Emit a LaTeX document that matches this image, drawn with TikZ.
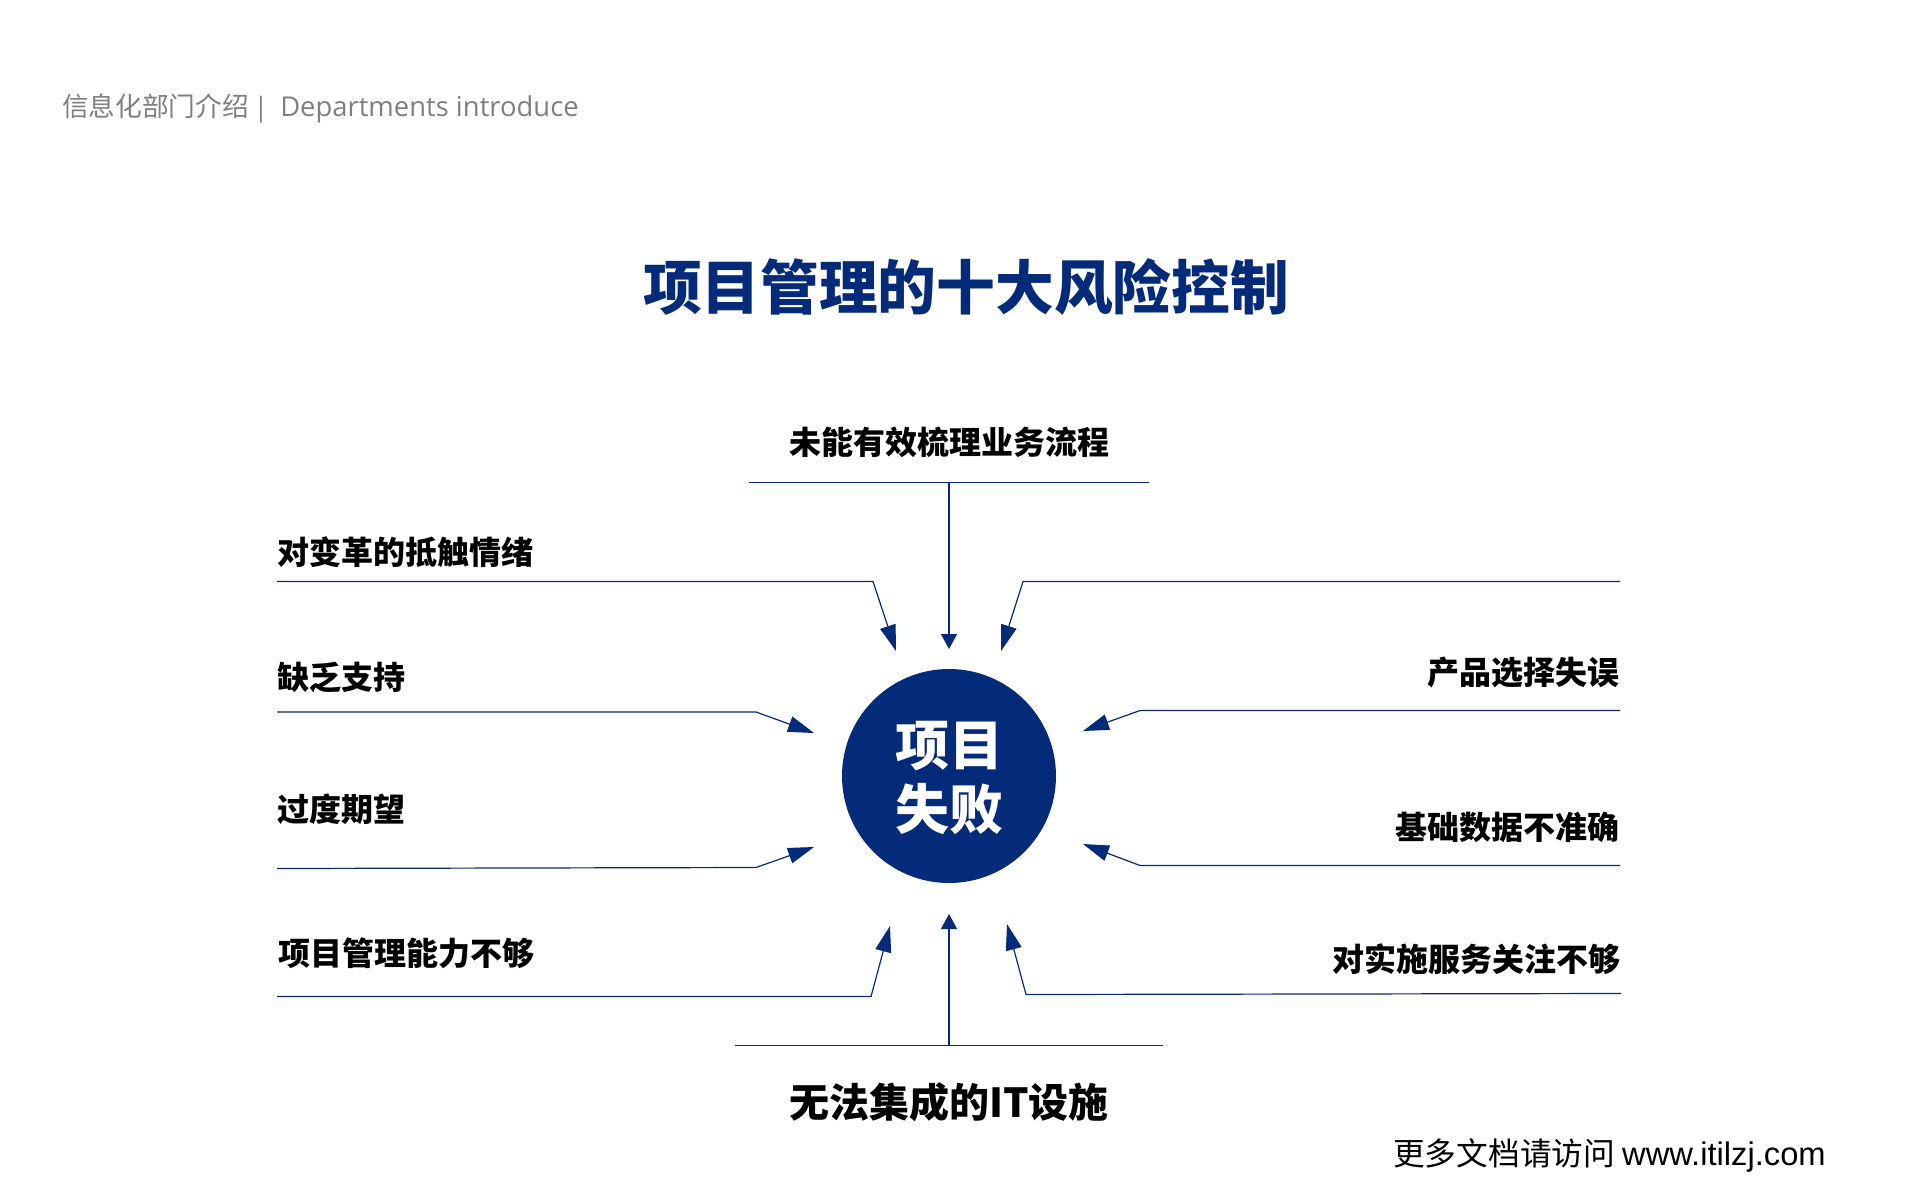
\documentclass[tikz,border=0pt]{standalone}
\usepackage{fontspec}
\setmainfont{Liberation Sans}
\newfontfamily\cjk{Noto Sans CJK SC}
\newfontfamily\cjkheavy{Noto Sans CJK SC Black}
\newfontfamily\latinhead{Open Sans}
\usetikzlibrary{positioning}
\usetikzlibrary{arrows.meta}
\definecolor{navy}{HTML}{032B7A}
\definecolor{headgray}{HTML}{7F7F7F}

\begin{document}
\begin{tikzpicture}[x=1pt,y=-1pt,>={Triangle[length=15pt,width=16pt]},
                link/.style={draw=navy,line width=1.2pt},
                long tip/.style={-{Triangle[length=26pt,width=16pt]}},
                risk/.style={inner sep=0pt,font=\cjk\bfseries\fontsize{32}{38}\selectfont},
                main node/.style={circle,fill=navy,minimum size=214pt,inner sep=0pt},
                fail text/.style={inner sep=0pt,text=white,align=center,
                  font=\cjk\bfseries\fontsize{54}{64}\selectfont}]

  \useasboundingbox (0,0) rectangle (1920,1200);

  \node[anchor=west,inner sep=0pt,text=headgray] (head) at (62,108)
    {\cjk\fontsize{26.7}{32}\selectfont 信息化部门介绍\,{\latinhead |}\hspace{12pt}\latinhead\fontsize{27.4}{32}\selectfont Departments introduce};
  \node[inner sep=0pt,text=navy,font=\cjkheavy\fontsize{58.7}{70}\selectfont] (title) at (966,287) {项目管理的十大风险控制};

  \node[main node] (fail) at (949,776) {};
  \node[fail text] (failtext) at ([yshift=-2.4pt]fail) {项目\\失败};

  % top and bottom
  \coordinate (topl) at (749,482.5);
  \coordinate (topr) at (1149,482.5);
  \coordinate (topm) at (949,482.5);
  \coordinate (toptip) at (949,649);
  \node[risk] (top) [above=25pt of topm] {未能有效梳理业务流程};
  \coordinate (botl) at (735,1045.5);
  \coordinate (botr) at (1163,1045.5);
  \coordinate (botm) at (949,1045.5);
  \coordinate (bottip) at (949,914);
  \node[risk,font=\cjk\bfseries\fontsize{40}{48}\selectfont] (bot) [below=37pt of botm] {无法集成的IT设施};

  % left side
  \coordinate (la1) at (277,581.5);
  \coordinate (la2) at (873,581.5);
  \coordinate (la3) at (896,651);
  \node[risk] (lefta) [above right=14pt and 0pt of la1] {对变革的抵触情绪};
  \coordinate (lb1) at (277,712);
  \coordinate (lb2) at (756,712);
  \coordinate (lb3) at (814,733);
  \node[risk] (leftb) [above right=19pt and 0pt of lb1] {缺乏支持};
  \coordinate (lc1) at (277,868.5);
  \coordinate (lc2) at (756,867.5);
  \coordinate (lc3) at (814,847);
  \node[risk] (leftc) [above right=44pt and 0pt of lc1] {过度期望};
  \coordinate (ld1) at (277,996.5);
  \coordinate (ld2) at (871,996.5);
  \coordinate (ld3) at (890,926);
  \node[risk] (leftd) [above right=28pt and 1pt of ld1] {项目管理能力不够};

  % right side
  \coordinate (ra1) at (1620,581.5);
  \coordinate (ra2) at (1023,581.5);
  \coordinate (ra3) at (1001,651);
  \coordinate (rb1) at (1620,710.5);
  \coordinate (rb2) at (1140,710.5);
  \coordinate (rb3) at (1083,731);
  \node[risk] (rightb) [above left=22pt and 0pt of rb1] {产品选择失误};
  \coordinate (rc1) at (1620,865.5);
  \coordinate (rc2) at (1140,865.5);
  \coordinate (rc3) at (1083,844);
  \node[risk] (rightc) [above left=23pt and 0pt of rc1] {基础数据不准确};
  \coordinate (rd1) at (1621,993.5);
  \coordinate (rd2) at (1026,994.5);
  \coordinate (rd3) at (1007,924);
  \node[risk] (rightd) [above left=19pt and 0pt of rd1] {对实施服务关注不够};

  \path[link] (topl) -- (topr);
  \path[link] (botl) -- (botr);
  \path[link,->] (topm) -- (toptip);
  \path[link,->] (botm) -- (bottip);
  \path[link,long tip] (la1) -- (la2) -- (la3);
  \path[link,long tip] (lb1) -- (lb2) -- (lb3);
  \path[link,long tip] (lc1) -- (lc2) -- (lc3);
  \path[link,long tip] (ld1) -- (ld2) -- (ld3);
  \path[link,long tip] (ra1) -- (ra2) -- (ra3);
  \path[link,long tip] (rb1) -- (rb2) -- (rb3);
  \path[link,long tip] (rc1) -- (rc2) -- (rc3);
  \path[link,long tip] (rd1) -- (rd2) -- (rd3);

  \node[anchor=west,inner sep=0pt] (site) at (1393,1155)
    {\cjk\fontsize{31.7}{38}\selectfont 更多文档请访问\ \rmfamily\fontsize{32.7}{38}\selectfont www.itilzj.com};

\end{tikzpicture}
\end{document}
